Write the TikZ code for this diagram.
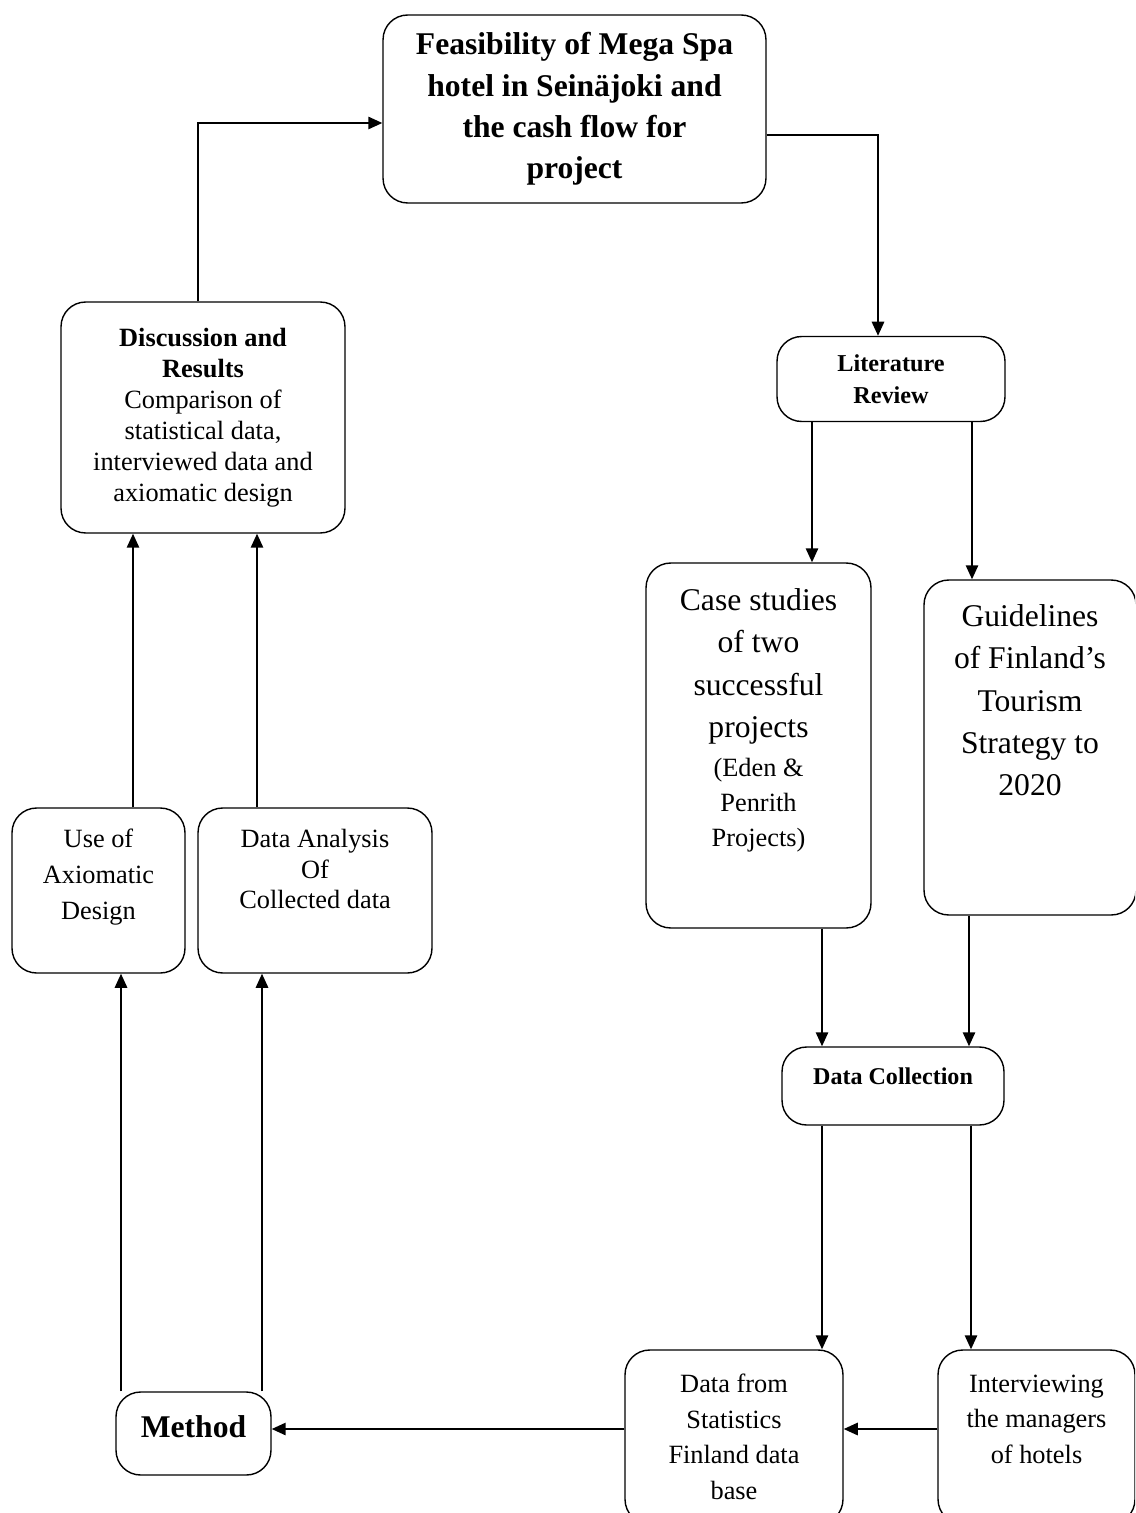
\documentclass[tikz,border=0pt]{standalone}
\usepackage{fontspec}
\setmainfont{Liberation Serif}
\usetikzlibrary{positioning,arrows.meta}

\begin{document}
\begin{tikzpicture}[x=0.02cm, y=-0.02cm,
    box/.style={draw, rounded corners=14pt, line width=0.8pt, align=center, inner sep=2pt},
    arr/.style={-{Triangle[length=8pt,width=7pt]}, line width=1.1pt}]
    \useasboundingbox (0,0) rectangle (1135,1513);
    \clip (0,0) rectangle (1135,1513);

    % Boxes
    \node[box, minimum width=7.66cm, minimum height=3.76cm, font=\fontsize{18}{23.5}\selectfont\bfseries] (top) at (574.5,109)
        {Feasibility of Mega Spa\\hotel in Seinäjoki and\\the cash flow for\\project};
    \node[box, minimum width=5.68cm, minimum height=4.62cm, font=\fontsize{15}{17.6}\selectfont] (disc) at (203,417.5)
        {\textbf{Discussion and}\\\textbf{Results}\\Comparison of\\statistical data,\\interviewed data and\\axiomatic design};
    \node[box, minimum width=4.56cm, minimum height=1.70cm, font=\fontsize{13.8}{18.5}\selectfont\bfseries] (lit) at (891,379)
        {Literature\\Review};
    \node[box, minimum width=4.50cm, minimum height=7.30cm, font=\fontsize{18}{24.2}\selectfont] (case) at (758.5,745.5)
        {Case studies\\of two\\successful\\projects\\[-2pt]{\fontsize{15}{19.3}\selectfont (Eden \&}\\[-4.5pt]{\fontsize{15}{19.3}\selectfont Penrith}\\[-4.5pt]{\fontsize{15}{19.3}\selectfont Projects)}\\[8pt]};
    \node[box, minimum width=4.24cm, minimum height=6.70cm, font=\fontsize{18}{24}\selectfont] (guide) at (1030,747.5)
        {Guidelines\\of Finland’s\\Tourism\\Strategy to\\2020\\[30pt]};
    \node[box, minimum width=3.46cm, minimum height=3.30cm, font=\fontsize{15}{20.5}\selectfont] (use) at (98.5,890.5)
        {Use of\\Axiomatic\\Design\\[-2pt]};
    \node[box, minimum width=4.68cm, minimum height=3.30cm, font=\fontsize{15}{17.6}\selectfont] (ana) at (315,890.5)
        {Data Analysis\\Of\\Collected data\\[7pt]};
    \node[box, minimum width=4.44cm, minimum height=1.56cm, font=\fontsize{13.7}{14}\selectfont\bfseries] (dc) at (893,1086)
        {Data Collection\\[-3pt]};
    \node[box, minimum width=4.36cm, minimum height=3.48cm, font=\fontsize{15}{20.2}\selectfont] (stat) at (734,1437)
        {Data from\\Statistics\\Finland data\\base};
    \node[box, minimum width=3.94cm, minimum height=3.48cm, font=\fontsize{15}{20.2}\selectfont] (inter) at (1036.5,1437)
        {Interviewing\\the managers\\of hotels\\};
    \node[box, minimum width=3.10cm, minimum height=1.66cm, font=\fontsize{18}{20}\selectfont\bfseries] (method) at (193.5,1433.5)
        {Method\\[-12pt]};

    % Arrows
    \draw[arr] (disc.north -| 198,0) |- (top.west |- 0,123);
    \draw[arr] (top.east |- 0,135) -| (lit.north -| 878,0);
    \draw[arr] (lit.south -| 812,0) -- (case.north -| 812,0);
    \draw[arr] (lit.south -| 972,0) -- (guide.north -| 972,0);
    \draw[arr] (case.south -| 822,0) -- (dc.north -| 822,0);
    \draw[arr] (guide.south -| 969,0) -- (dc.north -| 969,0);
    \draw[arr] (dc.south -| 822,0) -- (stat.north -| 822,0);
    \draw[arr] (dc.south -| 971,0) -- (inter.north -| 971,0);
    \draw[arr] (inter.west |- 0,1429) -- (stat.east |- 0,1429);
    \draw[arr] (stat.west |- 0,1429) -- (method.east |- 0,1429);
    \draw[arr] (method.north -| 121,0) -- (use.south -| 121,0);
    \draw[arr] (method.north -| 262,0) -- (ana.south -| 262,0);
    \draw[arr] (use.north -| 133,0) -- (disc.south -| 133,0);
    \draw[arr] (ana.north -| 257,0) -- (disc.south -| 257,0);
\end{tikzpicture}
\end{document}
